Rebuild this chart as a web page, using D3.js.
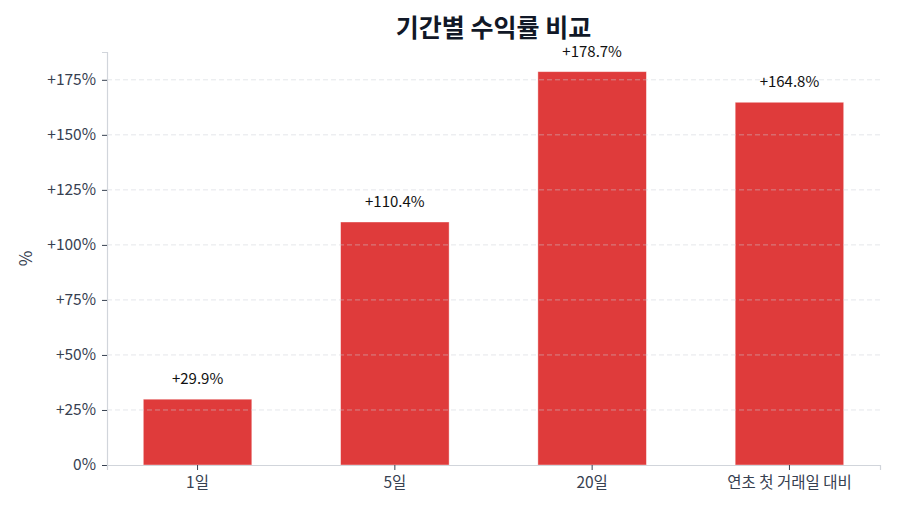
<!DOCTYPE html>
<html>
<head>
<meta charset="utf-8">
<script src="https://cdn.jsdelivr.net/npm/d3@7"></script>
<style>
  body { margin: 0; background: #fff; }
  text { font-family: "Noto Sans CJK KR", "Noto Sans", sans-serif; }
</style>
</head>
<body>
<div id="chart"></div>
<script>
// data
var categories = ["1일", "5일", "20일", "연초 첫 거래일 대비"];
var returns = [29.9, 110.4, 178.7, 164.8];
var yTicks = [0, 25, 50, 75, 100, 125, 150, 175];

var width = 900;
var height = 514;
var margin = { top: 52, right: 20, bottom: 49, left: 107 };
var plotW = width - margin.left - margin.right;
var plotH = height - margin.top - margin.bottom;

var fmt = d => (d > 0 ? "+" : "") + d3.format(".1f")(d) + "%";
var tickFmt = d => (d > 0 ? "+" : "") + d + "%";

var svg = d3.select("#chart")
  .append("svg")
  .attr("width", width)
  .attr("height", height);

var g = svg.append("g")
  .attr("transform", "translate(" + margin.left + "," + margin.top + ")");

// x scale - band, matching bar width 0.55 of step
var xScale = d3.scaleBand()
  .domain(categories)
  .range([0, plotW])
  .paddingInner(0.45)
  .paddingOuter(0.184);

// y scale with 5% headroom
var yScale = d3.scaleLinear()
  .domain([0, d3.max(returns) * 1.05])
  .range([plotH, 0]);

// bars
g.selectAll("rect.bar")
  .data(returns)
  .enter()
  .append("rect")
  .attr("class", "bar")
  .attr("x", (d, i) => xScale(categories[i]))
  .attr("y", d => yScale(d))
  .attr("width", xScale.bandwidth())
  .attr("height", d => plotH - yScale(d))
  .attr("fill", "#dc2626")
  .attr("fill-opacity", 0.9)
  .attr("stroke", "#ffffff")
  .attr("stroke-opacity", 0.5)
  .attr("stroke-width", 0.8);

// grid lines drawn on top of the bars
g.selectAll("line.grid")
  .data(yTicks.filter(d => d > 0))
  .enter()
  .append("line")
  .attr("class", "grid")
  .attr("x1", 0)
  .attr("x2", plotW)
  .attr("y1", d => yScale(d))
  .attr("y2", d => yScale(d))
  .attr("stroke", "#cbd0d8")
  .attr("stroke-opacity", 0.5)
  .attr("stroke-width", 1)
  .attr("stroke-dasharray", "5,3");

// value labels
g.selectAll("text.value")
  .data(returns)
  .enter()
  .append("text")
  .attr("class", "value")
  .text(d => fmt(d))
  .attr("x", (d, i) => xScale(categories[i]) + xScale.bandwidth() / 2)
  .attr("y", d => yScale(d) - 15)
  .attr("text-anchor", "middle")
  .style("font-size", "15px")
  .style("fill", "#111111");

// axes
var yAxis = g.append("g")
  .call(d3.axisLeft(yScale).tickValues(yTicks).tickFormat(tickFmt).tickSize(5).tickPadding(6));

var xAxis = g.append("g")
  .attr("transform", "translate(0," + plotH + ")")
  .call(d3.axisBottom(xScale).tickSize(5).tickPadding(7));

[yAxis, xAxis].forEach(function (ax) {
  ax.select(".domain").attr("stroke", "#d1d5db").attr("stroke-width", 1.2);
  ax.selectAll(".tick line").attr("stroke", "#374151");
  ax.selectAll(".tick text")
    .style("font-size", "15.5px")
    .style("fill", "#374151")
    .style("font-family", "'Noto Sans CJK KR', 'Noto Sans', sans-serif");
});

// y label
svg.append("text")
  .attr("transform", "translate(32," + (margin.top + plotH / 2) + ") rotate(-90)")
  .attr("text-anchor", "middle")
  .style("font-size", "17px")
  .style("fill", "#374151")
  .text("%");

// title
svg.append("text")
  .attr("x", margin.left + plotW / 2)
  .attr("y", 37)
  .attr("text-anchor", "middle")
  .style("font-size", "25px")
  .style("font-weight", "bold")
  .style("fill", "#111827")
  .text("기간별 수익률 비교");
</script>
</body>
</html>
